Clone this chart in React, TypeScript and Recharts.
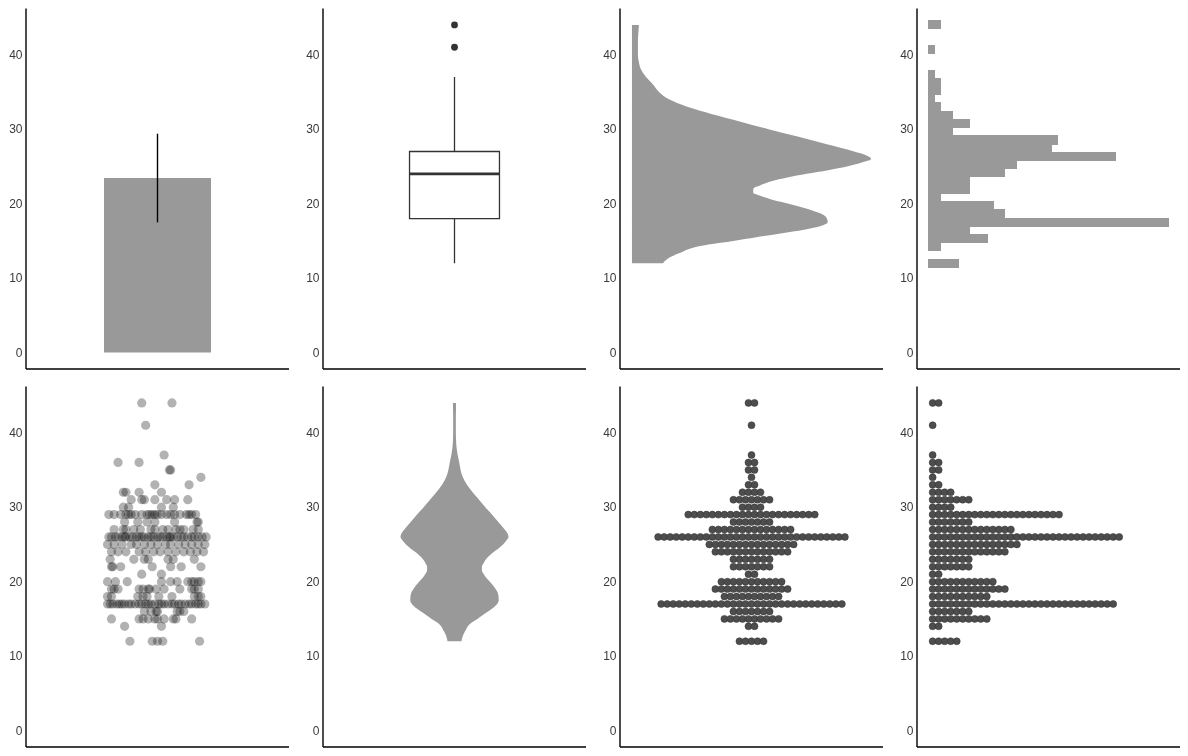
import {
  Area,
  Bar,
  BarChart,
  ComposedChart,
  ErrorBar,
  ReferenceArea,
  ReferenceLine,
  Scatter,
  XAxis,
  YAxis,
} from "recharts";

// hwy values and how many cars have each one
const hwyValues = [12, 14, 15, 16, 17, 18, 19, 20, 21, 22, 23, 24, 25, 26, 27, 28, 29, 30, 31, 32, 33, 34, 35, 36, 37, 41, 44];
const hwyCounts = [5, 2, 10, 7, 31, 10, 13, 11, 2, 7, 7, 13, 15, 32, 14, 7, 22, 4, 7, 4, 2, 1, 2, 2, 1, 1, 2];

const hwyMean = 23.44;
const hwySd = 5.95;

const boxLower = 12;
const boxQ1 = 18;
const boxMedian = 24;
const boxQ3 = 27;
const boxUpper = 37;
const boxOutliers = [41, 44];

// 30 bins, centred on these values
const histMids = [
  12, 13.103, 14.207, 15.31, 16.414, 17.517, 18.621, 19.724, 20.828, 21.931, 23.034, 24.138, 25.241, 26.345, 27.448,
  28.552, 29.655, 30.759, 31.862, 32.966, 34.069, 35.172, 36.276, 37.379, 38.483, 39.586, 40.69, 41.793, 42.897, 44,
];
const histCounts = [5, 0, 2, 10, 7, 41, 13, 11, 2, 7, 7, 13, 15, 32, 21, 22, 4, 7, 4, 2, 1, 2, 2, 1, 0, 0, 1, 0, 0, 2];

// kernel density, scaled to a maximum of 1
const densityY = [
  12, 12.5, 13, 13.5, 14, 14.5, 15, 15.5, 16, 16.5, 17, 17.5, 18, 18.5, 19, 19.5, 20, 20.5, 21, 21.5, 22, 22.5, 23, 23.5,
  24, 24.5, 25, 25.5, 26, 26.5, 27, 28, 29, 30, 31, 32, 33, 34, 35, 36, 37, 38, 39, 40, 41, 42, 43, 44,
];
const densityScaled = [
  0.13, 0.145, 0.172, 0.21, 0.248, 0.32, 0.424, 0.52, 0.622, 0.72, 0.79, 0.819, 0.815, 0.8, 0.76, 0.71, 0.655, 0.59,
  0.542, 0.507, 0.508, 0.54, 0.584, 0.65, 0.731, 0.82, 0.899, 0.958, 1.0, 0.979, 0.929, 0.811, 0.693, 0.571, 0.454,
  0.336, 0.231, 0.155, 0.113, 0.088, 0.059, 0.038, 0.029, 0.025, 0.025, 0.025, 0.027, 0.029,
];

// horizontal jitter of each point, one list per hwy value
const jitterOffsets = [
  [-0.21, -0.04, 0.0, 0.04, 0.32],
  [-0.25, 0.03],
  [-0.35, -0.14, -0.11, -0.07, -0.02, 0.0, 0.05, 0.12, 0.14, 0.26],
  [-0.1, -0.05, -0.01, 0.0, 0.15, 0.17, 0.2],
  [-0.38, -0.36, -0.34, -0.31, -0.29, -0.27, -0.25, -0.22, -0.2, -0.17, -0.14, -0.12, -0.09, -0.07, -0.05, -0.02, 0.01,
    0.03, 0.05, 0.08, 0.11, 0.13, 0.16, 0.18, 0.21, 0.24, 0.26, 0.29, 0.31, 0.33, 0.36],
  [-0.38, -0.35, -0.15, -0.11, -0.08, 0.01, 0.11, 0.28, 0.31, 0.33],
  [-0.35, -0.33, -0.3, -0.14, -0.11, -0.07, -0.06, -0.01, 0.05, 0.17, 0.26, 0.28, 0.31],
  [-0.38, -0.32, -0.23, 0.03, 0.1, 0.15, 0.23, 0.26, 0.28, 0.31, 0.33],
  [-0.12, 0.03],
  [-0.35, -0.34, -0.28, -0.04, 0.1, 0.18, 0.33],
  [-0.36, -0.18, -0.1, -0.07, 0.08, 0.12, 0.28],
  [-0.35, -0.3, -0.24, -0.14, -0.09, -0.03, 0.02, 0.08, 0.14, 0.2, 0.25, 0.3, 0.35],
  [-0.38, -0.33, -0.27, -0.2, -0.16, -0.1, -0.05, 0.0, 0.06, 0.1, 0.16, 0.21, 0.26, 0.31, 0.36],
  [-0.37, -0.35, -0.32, -0.3, -0.27, -0.25, -0.24, -0.21, -0.19, -0.16, -0.14, -0.12, -0.1, -0.07, -0.05, -0.03, 0.0,
    0.02, 0.04, 0.07, 0.09, 0.1, 0.12, 0.15, 0.18, 0.2, 0.23, 0.26, 0.28, 0.31, 0.34, 0.37],
  [-0.33, -0.26, -0.24, -0.18, -0.13, -0.05, -0.02, 0.04, 0.08, 0.14, 0.17, 0.2, 0.27, 0.31],
  [-0.25, -0.15, -0.08, -0.02, 0.13, 0.3, 0.31],
  [-0.37, -0.33, -0.28, -0.24, -0.22, -0.2, -0.17, -0.12, -0.08, -0.06, -0.04, -0.02, 0.0, 0.03, 0.07, 0.1, 0.13, 0.17,
    0.22, 0.24, 0.26, 0.29],
  [-0.26, -0.22, 0.03, 0.12],
  [-0.2, -0.12, -0.1, -0.02, 0.07, 0.13, 0.23],
  [-0.26, -0.24, -0.14, 0.03],
  [-0.02, 0.24],
  [0.33],
  [0.09, 0.1],
  [-0.3, -0.14],
  [0.05],
  [-0.09],
  [-0.12, 0.11],
];

const Y_DOMAIN = [-2.2, 46.2];
const Y_TICKS = [0, 10, 20, 30, 40];
const W = 297;
const H = 378;
const MARGIN = { top: 8.5, right: 8, bottom: 8, left: 0 };
const FONT = '"Liberation Sans", Arial, sans-serif';
const GREY = "#999999";
const DOT = "#4d4d4d";
const AXIS_LINE = { stroke: "#000", strokeWidth: 1.4 };

const barRows = [{ name: "hwy", mean: hwyMean, sd: hwySd }];
const outlierRows = boxOutliers.map((y) => ({ x: 0, y }));
const histRows = histMids.map((mid, i) => ({ mid, count: histCounts[i] }));
const densityRows = densityY.map((y, i) => ({ y, d: densityScaled[i] }));
const jitterRows = hwyValues.flatMap((y, i) => jitterOffsets[i].map((x) => ({ x, y })));
const centredDots = hwyValues.flatMap((y, i) =>
  Array.from({ length: hwyCounts[i] }, (_, k) => ({ x: k - (hwyCounts[i] - 1) / 2, y })),
);
const stackedDots = hwyValues.flatMap((y, i) => Array.from({ length: hwyCounts[i] }, (_, k) => ({ x: k, y })));

// vertical-layout charts draw a number y axis top-down, so flip it back
function yAxis(dataKey?: string, flip = false) {
  return (
    <YAxis
      type="number"
      dataKey={dataKey}
      domain={Y_DOMAIN}
      ticks={Y_TICKS}
      interval={0}
      allowDataOverflow
      reversed={flip}
      width={26}
      tickLine={false}
      tickSize={0}
      tickMargin={3.5}
      axisLine={AXIS_LINE}
      tick={{ fill: "#3a3a3a", fontSize: 12, fontFamily: FONT }}
    />
  );
}

function xAxis(domain?: number[], dataKey?: string) {
  return domain ? (
    <XAxis
      type="number"
      dataKey={dataKey}
      domain={domain}
      allowDataOverflow
      height={1}
      tick={false}
      tickLine={false}
      axisLine={AXIS_LINE}
    />
  ) : (
    <XAxis dataKey="name" height={1} tick={false} tickLine={false} axisLine={AXIS_LINE} />
  );
}

const circle = (r: number, fill: string, opacity: number, stroke?: string) => (p: any) => (
  <circle cx={p.cx} cy={p.cy} r={r} fill={fill} fillOpacity={opacity} stroke={stroke ?? "none"} strokeWidth={0.5} />
);

function Panel({ col, row, children }: { col: number; row: number; children: React.ReactNode }) {
  return <div style={{ position: "absolute", left: col * W, top: row * H }}>{children}</div>;
}

export default function App() {
  return (
    <div
      style={{
        position: "absolute",
        left: 0,
        top: 0,
        width: 1188,
        height: 756,
        background: "#fff",
        filter: "grayscale(1)",
      }}
    >
      <Panel col={0} row={0}>
        <BarChart width={W} height={H} margin={MARGIN} data={barRows} barSize={107}>
          {xAxis()}
          {yAxis()}
          <Bar dataKey="mean" fill={GREY} isAnimationActive={false}>
            <ErrorBar dataKey="sd" width={0} stroke="#000" strokeWidth={1.4} direction="y" />
          </Bar>
        </BarChart>
      </Panel>

      <Panel col={1} row={0}>
        <ComposedChart width={W} height={H} margin={MARGIN} data={outlierRows}>
          {xAxis([-1, 1], "x")}
          {yAxis("y")}
          <ReferenceLine segment={[{ x: 0, y: boxQ3 }, { x: 0, y: boxUpper }]} stroke="#333" strokeWidth={1.3} />
          <ReferenceLine segment={[{ x: 0, y: boxLower }, { x: 0, y: boxQ1 }]} stroke="#333" strokeWidth={1.3} />
          <ReferenceArea x1={-0.342} x2={0.342} y1={boxQ1} y2={boxQ3} fill="#fff" fillOpacity={1} stroke="#333" strokeWidth={1.3} />
          <ReferenceLine segment={[{ x: -0.342, y: boxMedian }, { x: 0.342, y: boxMedian }]} stroke="#333" strokeWidth={2.6} />
          <Scatter dataKey="y" fill="#333" shape={circle(3.4, "#333", 1)} isAnimationActive={false} />
        </ComposedChart>
      </Panel>

      <Panel col={2} row={0}>
        <ComposedChart width={W} height={H} margin={MARGIN} data={densityRows} layout="vertical">
          {xAxis([-0.05, 1.05])}
          {yAxis("y", true)}
          <Area type="monotone" dataKey="d" baseValue={0} fill={GREY} fillOpacity={1} stroke="none" isAnimationActive={false} />
        </ComposedChart>
      </Panel>

      <Panel col={3} row={0}>
        <ComposedChart
          width={W}
          height={H}
          margin={MARGIN}
          data={histRows}
          layout="vertical"
          barCategoryGap={0}
          barGap={0}
        >
          {xAxis([-2.05, 43.05])}
          {yAxis("mid", true)}
          <Bar
            dataKey="count"
            barSize={8.2}
            fill={GREY}
            stroke={GREY}
            strokeWidth={1}
            shapeRendering="crispEdges"
            isAnimationActive={false}
          />
        </ComposedChart>
      </Panel>

      <Panel col={0} row={1}>
        <ComposedChart width={W} height={H} margin={MARGIN} data={jitterRows}>
          {xAxis([-1, 1], "x")}
          {yAxis("y")}
          <Scatter dataKey="y" shape={circle(4.6, "#000", 0.3)} isAnimationActive={false} />
        </ComposedChart>
      </Panel>

      <Panel col={1} row={1}>
        <ComposedChart width={W} height={H} margin={MARGIN} data={densityRows} layout="vertical">
          {xAxis([-2.435, 2.435])}
          {yAxis("y", true)}
          <Area
            type="monotone"
            dataKey={(r: any) => [-r.d, r.d]}
            fill={GREY}
            fillOpacity={1}
            stroke="none"
            isAnimationActive={false}
          />
        </ComposedChart>
      </Panel>

      <Panel col={2} row={1}>
        <ComposedChart width={W} height={H} margin={MARGIN} data={centredDots}>
          {xAxis([-21.83, 21.83], "x")}
          {yAxis("y")}
          <Scatter dataKey="y" shape={circle(3.5, DOT, 1, "#333")} isAnimationActive={false} />
        </ComposedChart>
      </Panel>

      <Panel col={3} row={1}>
        <ComposedChart width={W} height={H} margin={MARGIN} data={stackedDots}>
          {xAxis([-2.6, 41.1], "x")}
          {yAxis("y")}
          <Scatter dataKey="y" shape={circle(3.5, DOT, 1, "#333")} isAnimationActive={false} />
        </ComposedChart>
      </Panel>
    </div>
  );
}
